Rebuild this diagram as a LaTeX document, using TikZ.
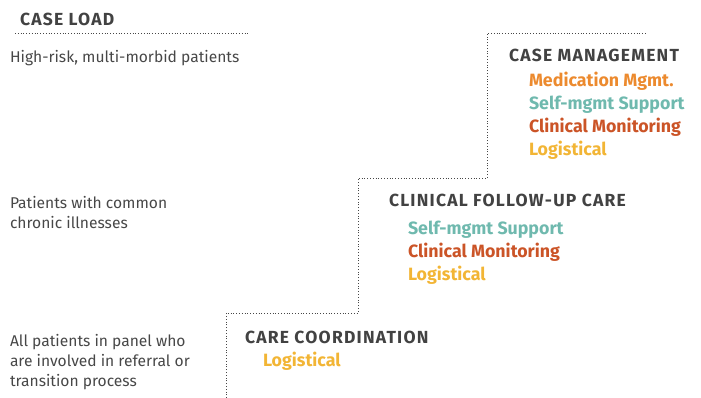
\documentclass[tikz,border=0pt]{standalone}
\usepackage{fontspec}
\setmainfont{Fira Sans}
\definecolor{txt}{HTML}{474747}
\definecolor{head}{HTML}{424242}
\definecolor{cmed}{HTML}{EC8A2E}
\definecolor{cself}{HTML}{6FB9AE}
\definecolor{cclin}{HTML}{CB5427}
\definecolor{clog}{HTML}{F2B535}
\begin{document}
\begin{tikzpicture}[x=1pt,y=-1pt,
  every node/.style={inner sep=0pt,outer sep=0pt,anchor=base west},
  body/.style={text=txt,font=\fontsize{15.6}{21}\selectfont,align=left},
  heading/.style={text=head,font=\bfseries\fontsize{17.5}{20}\selectfont\addfontfeatures{LetterSpace=7}},
  item/.style={font=\bfseries\fontsize{17.8}{20}\selectfont},
  stair/.style={draw=txt,line width=0.8pt,dotted}]
\useasboundingbox (0,0) rectangle (701,398);
% case load header
\node[heading] (caseload) at (20,26) {CASE LOAD};
\coordinate (ulA) at (15,33);
\coordinate (ulB) at (248,33);
\draw[stair] (ulA) -- (ulB);
\node[body] (high) at (10,63) {High-risk, multi-morbid patients};
\node[body] (chronic1) at (10,208) {Patients with common};
\node[body] (chronic2) at (10,229) {chronic illnesses};
\node[body] (all1) at (10,346) {All patients in panel who};
\node[body] (all2) at (10,366) {are involved in referral or};
\node[body] (all3) at (10,386) {transition process};
% staircase
\coordinate (s0) at (226,398);
\coordinate (s1) at (358,313);
\coordinate (s2) at (487,178);
\coordinate (s3) at (647,33);
\draw[stair] (s0) |- (s1) |- (s2) |- (s3);
% case management
\node[heading] (cm) at (509,62) {CASE MANAGEMENT};
\node[item,text=cmed] (cm1) at (529,87) {Medication Mgmt.};
\node[item,text=cself] (cm2) at (529,110) {Self-mgmt Support};
\node[item,text=cclin] (cm3) at (529,133) {Clinical Monitoring};
\node[item,text=clog] (cm4) at (529,156) {Logistical};
% clinical follow-up
\node[heading] (cf) at (389,207) {CLINICAL FOLLOW-UP CARE};
\node[item,text=cself] (cf1) at (408,234) {Self-mgmt Support};
\node[item,text=cclin] (cf2) at (408,257) {Clinical Monitoring};
\node[item,text=clog] (cf3) at (408,280) {Logistical};
% care coordination
\node[heading] (cc) at (245,343) {CARE COORDINATION};
\node[item,text=clog] (cc1) at (263,366) {Logistical};
\end{tikzpicture}
\end{document}
